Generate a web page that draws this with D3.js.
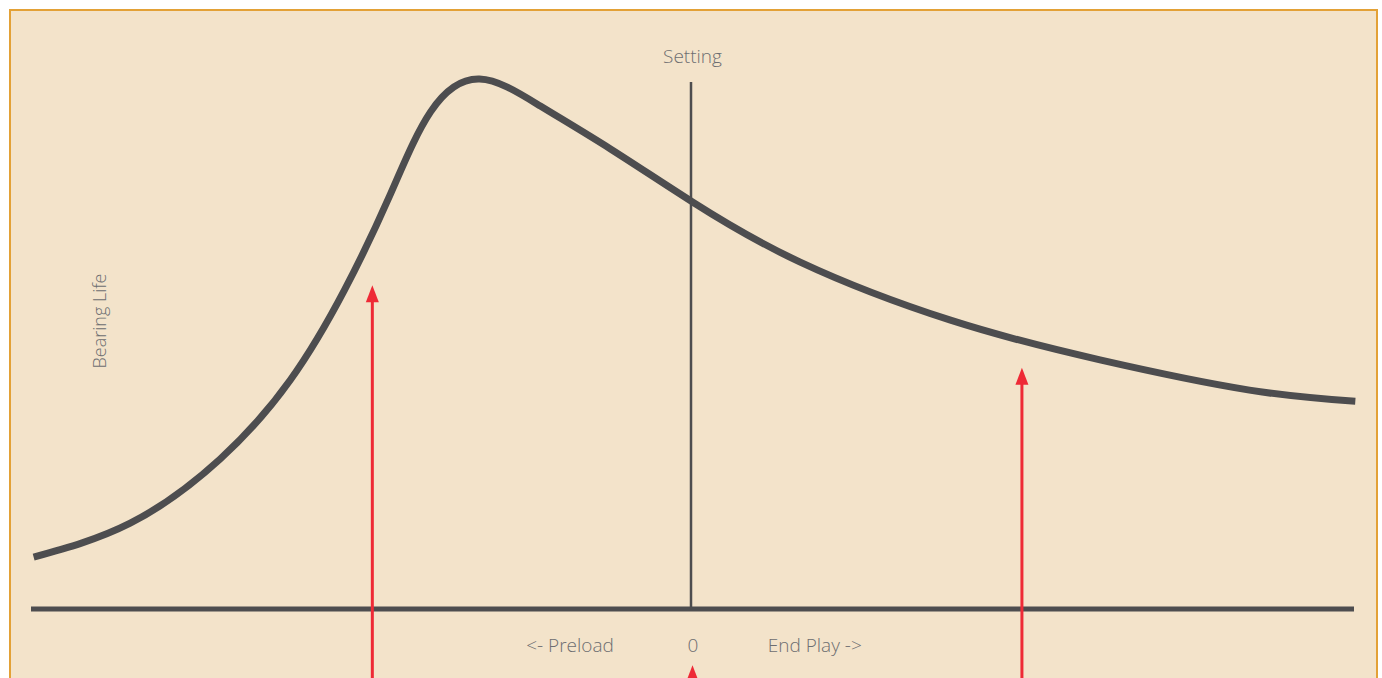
<!DOCTYPE html>
<html>
<head>
<meta charset="utf-8">
<script src="https://cdn.jsdelivr.net/npm/d3@7"></script>
<style>
  html, body { margin: 0; padding: 0; background: #fff; }
  svg { display: block; }
</style>
</head>
<body>
<div id="chart"></div>
<script>
// clearance (neg = preload, pos = end play) vs relative bearing life
const clearance = [-49.8, -42.5, -35.7, -30.4, -26.3, -22.9, -19.8, -16.1, -11.5, -6.2,
  0, 8.1, 19.5, 30.8, 42.1, 50.1];
const life = [9.8, 16.2, 28.3, 43.2, 60.2, 77.9, 93.8, 100, 94.9, 86.8,
  76.8, 65.5, 54.5, 47.0, 41.3, 39.2];

// red pointer arrows: position and tip height
const arrowX = [-24.2, 0, 24.9];
const arrowTip = [61.1, -10.6, 45.5];

const tickValues = [-9.3, 0, 9.2];
const tickLabels = ["<- Preload", "0", "End Play ->"];

const width = 1382;
const height = 678;

const svg = d3.select("#chart")
    .append("svg")
    .attr("width", width)
    .attr("height", height)
    .style("font-family", "'Open Sans', 'Noto Sans', sans-serif");

// panel
svg.append("rect")
    .attr("x", 10).attr("y", 10)
    .attr("width", 1367).attr("height", 700)
    .attr("fill", "#f3e3ca")
    .attr("stroke", "#e3a136")
    .attr("stroke-width", 2);

const x = d3.scaleLinear().domain([-50, 50]).range([31, 1354]);
const y = d3.scaleLinear().domain([0, 100]).range([609, 79]);

const points = clearance.map((c, i) => [c, life[i]]);

// baseline
svg.append("line")
    .attr("x1", x(-50)).attr("x2", x(50))
    .attr("y1", y(0)).attr("y2", y(0))
    .attr("stroke", "#4d4d4f")
    .attr("stroke-width", 5);

// setting line
svg.append("line")
    .attr("x1", x(0) - 1.5).attr("x2", x(0) - 1.5)
    .attr("y1", 82).attr("y2", y(0))
    .attr("stroke", "#4d4d4f")
    .attr("stroke-width", 2.5);

svg.append("text")
    .attr("x", x(0))
    .attr("y", 63)
    .attr("text-anchor", "middle")
    .attr("font-size", 19)
    .attr("font-weight", 300)
    .attr("fill", "#6d6e71")
    .text("Setting");

// life curve
const line = d3.line()
    .x(d => x(d[0]))
    .y(d => y(d[1]))
    .curve(d3.curveNatural);

svg.append("path")
    .datum(points)
    .attr("d", line)
    .attr("fill", "none")
    .attr("stroke", "#4d4d4f")
    .attr("stroke-width", 7);

// axis labels
const axis = d3.axisBottom(x)
    .tickValues(tickValues)
    .tickFormat((d, i) => tickLabels[i])
    .tickSize(0)
    .tickPadding(0);

const gx = svg.append("g")
    .attr("transform", `translate(0,${y(0)})`)
    .call(axis);
gx.select(".domain").remove();
gx.selectAll("text")
    .attr("dy", null)
    .attr("y", 43)
    .attr("font-size", 19)
    .attr("font-weight", 300)
    .attr("font-family", "'Open Sans', 'Noto Sans', sans-serif")
    .attr("fill", "#6d6e71");

// y label
svg.append("text")
    .attr("transform", `translate(106,${321}) rotate(-90)`)
    .attr("text-anchor", "middle")
    .attr("font-size", 18)
    .attr("font-weight", 300)
    .attr("fill", "#6d6e71")
    .text("Bearing Life");

// red arrows
const red = "#ee2a36";
const arrows = svg.append("g");
arrowX.forEach((ax, i) => {
    const px = x(ax);
    const tip = y(arrowTip[i]);
    arrows.append("line")
        .attr("x1", px).attr("x2", px)
        .attr("y1", tip + 10).attr("y2", 720)
        .attr("stroke", red)
        .attr("stroke-width", 3);
    arrows.append("path")
        .attr("d", `M${px},${tip} L${px - 6.5},${tip + 17} L${px + 6.5},${tip + 17} Z`)
        .attr("fill", red);
});
</script>
</body>
</html>
